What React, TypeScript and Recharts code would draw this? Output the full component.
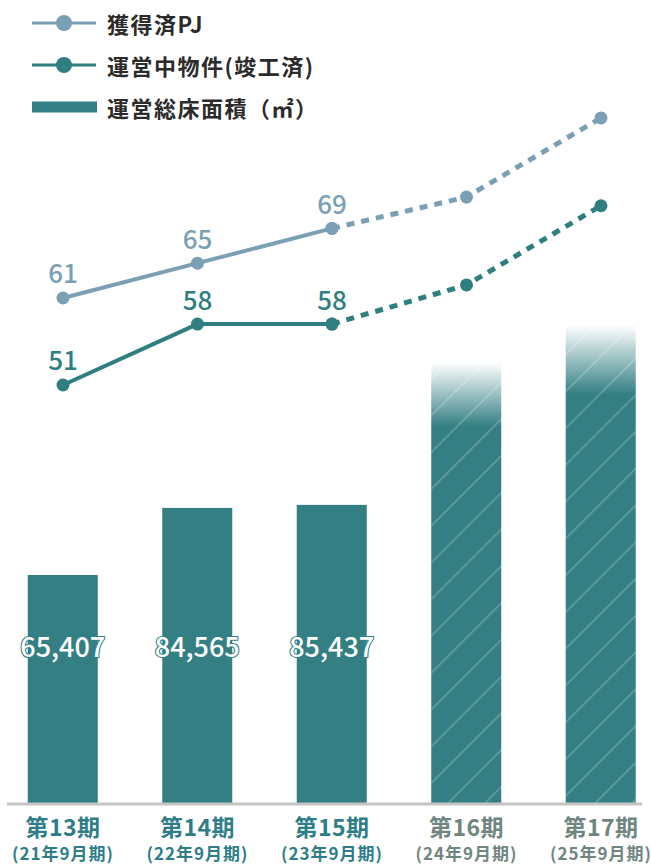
import React from 'react';
import { ComposedChart, Bar, Line, XAxis, YAxis, LabelList } from 'recharts';

const periods = ['第13期', '第14期', '第15期', '第16期', '第17期'];
const fiscalYears = ['(21年9月期)', '(22年9月期)', '(23年9月期)', '(24年9月期)', '(25年9月期)'];
const floorArea = [65407, 84565, 85437, 126000, 136800];
const acquiredPJ = [61, 65, 69, 72.6, 81.7];
const operating = [51, 58, 58, 62.5, 71.6];
const forecast = [false, false, false, true, true];

const TEAL = '#337f83';
const LINE_TEAL = '#2f7e80';
const GRAY_BLUE = '#7b9fb4';
const AXIS_TEAL = '#2e7d88';
const AXIS_GRAY = '#6f8580';
const TEXT_DARK = '#2b2b2b';
const FONT = '"Noto Sans CJK JP", "Noto Sans", sans-serif';

const lastActual = 2;

const data = periods.map((p, i) => ({
  idx: i,
  period: p,
  fiscal: fiscalYears[i],
  forecast: forecast[i],
  area: floorArea[i],
  areaLabel: forecast[i] ? null : floorArea[i],
  pjSolid: i <= lastActual ? acquiredPJ[i] : null,
  pjDash: i >= lastActual ? acquiredPJ[i] : null,
  opSolid: i <= lastActual ? operating[i] : null,
  opDash: i >= lastActual ? operating[i] : null,
}));

const AreaBar = (props: any) => {
  const { x, y, width, height, payload } = props;
  if (height == null || height <= 0) return null;
  if (payload && payload.forecast) {
    return (
      <g>
        <rect x={x} y={y} width={width} height={height} fill="url(#fadeTeal)" />
        <rect x={x} y={y} width={width} height={height} fill="url(#hatch)" />
      </g>
    );
  }
  return <rect x={x} y={y} width={width} height={height} fill={TEAL} />;
};

const renderAreaLabel = (props: any) => {
  const { x, y, width, height, value } = props;
  if (value == null) return null;
  return (
    <text
      x={x + width / 2}
      y={y + height - 159}
      textAnchor="middle"
      dominantBaseline="central"
      fontFamily={FONT}
      fontSize={27}
      fontWeight={500}
      fill="#ffffff"
      stroke={TEAL}
      strokeWidth={2.2}
      paintOrder="stroke"
    >
      {Number(value).toLocaleString('en-US')}
    </text>
  );
};

const makeLineLabel = (color: string) => (props: any) => {
  const { x, y, value } = props;
  if (value == null) return null;
  return (
    <text
      x={x}
      y={y - 26}
      textAnchor="middle"
      dominantBaseline="central"
      fontFamily={FONT}
      fontSize={26}
      fontWeight={500}
      fill={color}
    >
      {value}
    </text>
  );
};

const AxisTick = (props: any) => {
  const { x, y, payload } = props;
  const i = payload.value as number;
  const color = forecast[i] ? AXIS_GRAY : AXIS_TEAL;
  return (
    <g>
      <text
        x={x}
        y={y + 22}
        textAnchor="middle"
        dominantBaseline="central"
        fontFamily={FONT}
        fontSize={23}
        fontWeight={700}
        letterSpacing={0.5}
        fill={color}
      >
        {periods[i]}
      </text>
      <text
        x={x}
        y={y + 48}
        textAnchor="middle"
        dominantBaseline="central"
        fontFamily={FONT}
        fontSize={17}
        fontWeight={700}
        letterSpacing={1}
        fill={color}
      >
        {fiscalYears[i]}
      </text>
    </g>
  );
};

const legendItems = [
  { label: '獲得済PJ', kind: 'line', color: GRAY_BLUE },
  { label: '運営中物件(竣工済)', kind: 'line', color: LINE_TEAL },
  { label: '運営総床面積（㎡）', kind: 'bar', color: TEAL },
];

const LegendOverlay = () => (
  <svg width={651} height={130} style={{ position: 'absolute', left: 0, top: 0, pointerEvents: 'none' }}>
    {legendItems.map((it, k) => {
      const cy = 23 + k * 42;
      return (
        <g key={it.label}>
          {it.kind === 'line' ? (
            <g>
              <line x1={32} x2={96} y1={cy} y2={cy} stroke={it.color} strokeWidth={3} />
              <circle cx={64} cy={cy} r={8} fill={it.color} />
            </g>
          ) : (
            <rect x={32} y={cy - 5.5} width={65} height={11} fill={it.color} />
          )}
          <text
            x={107}
            y={cy}
            dominantBaseline="central"
            fontFamily={FONT}
            fontSize={22}
            fontWeight={700}
            letterSpacing={1.5}
            fill={TEXT_DARK}
          >
            {it.label}
          </text>
        </g>
      );
    })}
  </svg>
);

export default function App() {
  return (
    <div style={{ position: 'absolute', left: 0, top: 0, width: 651, height: 864, background: '#fff' }}>
      <ComposedChart
        width={651}
        height={864}
        data={data}
        margin={{ top: 0, right: 9, left: 7, bottom: 0 }}
      >
        <defs>
          <linearGradient id="fadeTeal" x1="0" y1="0" x2="0" y2="1">
            <stop offset="0" stopColor={TEAL} stopOpacity={0} />
            <stop offset="0.145" stopColor={TEAL} stopOpacity={1} />
            <stop offset="1" stopColor={TEAL} stopOpacity={1} />
          </linearGradient>
          <pattern id="hatch" patternUnits="userSpaceOnUse" width={26} height={26} patternTransform="rotate(45)">
            <line x1={0} y1={0} x2={0} y2={26} stroke="#ffffff" strokeOpacity={0.25} strokeWidth={3} />
          </pattern>
        </defs>
        <XAxis
          dataKey="idx"
          type="number"
          domain={[-0.4164, 4.305]}
          ticks={[0, 1, 2, 3, 4]}
          interval={0}
          allowDataOverflow
          height={60}
          tickLine={false}
          tickSize={0}
          tickMargin={0}
          axisLine={{ stroke: '#c4c4c4', strokeWidth: 3 }}
          tick={(p: any) => <AxisTick {...p} />}
        />
        <YAxis yAxisId="area" hide domain={[0, 229640]} allowDataOverflow />
        <YAxis yAxisId="count" hide domain={[2.84, 95.25]} allowDataOverflow />
        <Bar yAxisId="area" dataKey="area" barSize={70} shape={(p: any) => <AreaBar {...p} />} isAnimationActive={false}>
          <LabelList dataKey="areaLabel" content={renderAreaLabel} />
        </Bar>
        <Line
          yAxisId="count"
          dataKey="pjDash"
          type="linear"
          stroke={GRAY_BLUE}
          strokeWidth={5}
          strokeDasharray="8 7"
          dot={{ r: 6.5, fill: GRAY_BLUE, stroke: 'none' }}
          activeDot={false}
          isAnimationActive={false}
        />
        <Line
          yAxisId="count"
          dataKey="opDash"
          type="linear"
          stroke={LINE_TEAL}
          strokeWidth={5}
          strokeDasharray="8 7"
          dot={{ r: 6.5, fill: LINE_TEAL, stroke: 'none' }}
          activeDot={false}
          isAnimationActive={false}
        />
        <Line
          yAxisId="count"
          dataKey="pjSolid"
          type="linear"
          stroke={GRAY_BLUE}
          strokeWidth={4}
          dot={{ r: 6.5, fill: GRAY_BLUE, stroke: 'none' }}
          activeDot={false}
          isAnimationActive={false}
        >
          <LabelList dataKey="pjSolid" content={makeLineLabel(GRAY_BLUE)} />
        </Line>
        <Line
          yAxisId="count"
          dataKey="opSolid"
          type="linear"
          stroke={LINE_TEAL}
          strokeWidth={4}
          dot={{ r: 6.5, fill: LINE_TEAL, stroke: 'none' }}
          activeDot={false}
          isAnimationActive={false}
        >
          <LabelList dataKey="opSolid" content={makeLineLabel(LINE_TEAL)} />
        </Line>
      </ComposedChart>
      <LegendOverlay />
    </div>
  );
}
